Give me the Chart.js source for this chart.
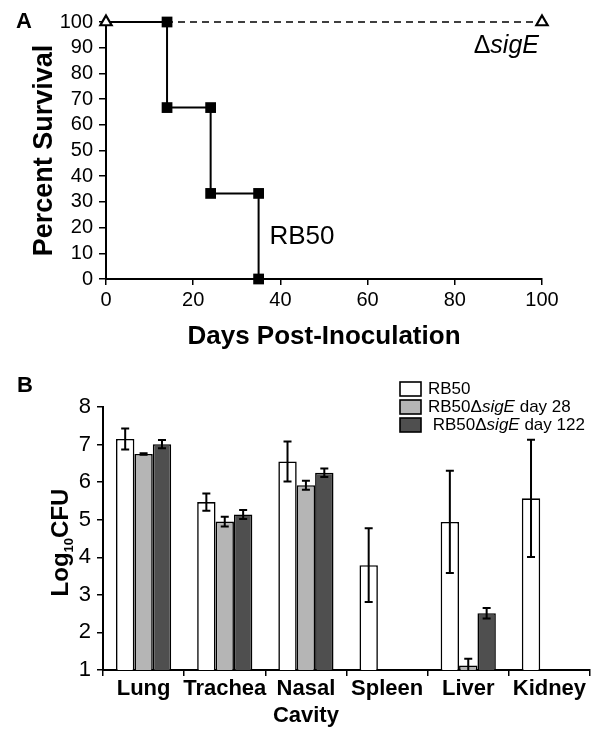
<!DOCTYPE html>
<html>
<head>
<meta charset="utf-8">
<script src="https://cdn.jsdelivr.net/npm/chart.js@4.4.1/dist/chart.umd.min.js"></script>
<style>
  html, body { margin: 0; padding: 0; background: #fff; }
  #wrap { position: relative; width: 600px; height: 737px; overflow: hidden; }
  .pane { position: absolute; left: 0; }
  #chartA { top: 0; }
  #chartB { top: 360px; }
  .tag { position: absolute; font: bold 22px "Liberation Sans", Arial, sans-serif; color: #000; }
</style>
</head>
<body>
<div id="wrap">
  <canvas id="chartA" class="pane" width="600" height="352"></canvas>
  <canvas id="chartB" class="pane" width="600" height="377"></canvas>
  <div class="tag" style="left:16px;top:8px">A</div>
  <div class="tag" style="left:17px;top:372px">B</div>
</div>
<script>
// ---- panel A: survival ----
const rbDays = [0, 14, 14, 24, 24, 35, 35];
const rbSurv = [100, 100, 66.7, 66.7, 33.3, 33.3, 0];
const sigDays = [0, 100];
const sigSurv = [100, 100];

// ---- panel B: organ burden (log10 CFU) ----
const organs = ["Lung", "Trachea", ["Nasal", "Cavity"], "Spleen", "Liver", "Kidney"];
const rb50 = [7.15, 5.47, 6.55, 3.79, 4.94, 5.57];
const rb50Err = [0.28, 0.23, 0.53, 0.98, 1.36, 1.56];
const d28 = [6.75, 4.95, 5.92, null, 1.12, null];
const d28Err = [0.02, 0.13, 0.12, null, 0.18, null];
const d122 = [7.01, 5.14, 6.25, null, 2.51, null];
const d122Err = [0.11, 0.12, 0.11, null, 0.14, null];

const FONT = '"Liberation Sans", Arial, sans-serif';
Chart.defaults.font.family = FONT;
Chart.defaults.color = "#000";

const pts = (xs, ys) => xs.map((x, i) => ({ x, y: ys[i] }));

// draws a run of text pieces, some italic
function richText(ctx, parts, x, y, size, align) {
  const fontOf = p => (p.it ? "italic " : "") + size + "px " + FONT;
  let total = 0;
  parts.forEach(p => { ctx.font = fontOf(p); total += ctx.measureText(p.t).width; });
  let cx = align === "right" ? x - total : x;
  ctx.textAlign = "left";
  parts.forEach(p => { ctx.font = fontOf(p); ctx.fillText(p.t, cx, y); cx += ctx.measureText(p.t).width; });
}

const survivalLabels = {
  id: "survivalLabels",
  afterDatasetsDraw(chart) {
    const { ctx, scales: { x, y } } = chart;
    ctx.save();
    ctx.fillStyle = "#000";
    ctx.textBaseline = "middle";
    richText(ctx, [{ t: "Δ" }, { t: "sigE", it: true }], x.getPixelForValue(100) - 3, y.getPixelForValue(90.5), 25, "right");
    richText(ctx, [{ t: "RB50" }], x.getPixelForValue(37.5), y.getPixelForValue(16.5), 26, "left");
    ctx.restore();
  }
};

new Chart(document.getElementById("chartA"), {
  type: "line",
  data: {
    datasets: [
      { label: "ΔsigE", data: pts(sigDays, sigSurv), borderColor: "#000", borderWidth: 1.3, borderDash: [7, 5],
        pointStyle: "triangle", pointRadius: 6.5, pointBorderWidth: 2.2, pointBackgroundColor: "#fff", pointBorderColor: "#000", clip: false },
      { label: "RB50", data: pts(rbDays, rbSurv), borderColor: "#000", borderWidth: 2,
        pointStyle: "rect", pointRadius: c => (c.dataIndex === 0 ? 0 : 7.6), pointBorderWidth: 0, pointBackgroundColor: "#000", clip: false }
    ]
  },
  options: {
    responsive: false, animation: false,
    layout: { padding: { left: 28, top: 22, right: 58, bottom: 0 } },
    plugins: { legend: { display: false }, tooltip: { enabled: false } },
    scales: {
      x: {
        type: "linear", min: 0, max: 100,
        ticks: { stepSize: 20, font: { size: 20 }, padding: 3, maxRotation: 0, autoSkip: false },
        grid: { drawOnChartArea: false, tickLength: 6, color: "#000", lineWidth: 1.5 },
        border: { color: "#000", width: 2 },
        title: { display: true, text: "Days Post-Inoculation", font: { size: 26, weight: "bold" }, padding: 0 },
        afterFit(s) { s.height = 73; }
      },
      y: {
        min: 0, max: 100,
        ticks: { stepSize: 10, font: { size: 20 }, padding: 6, autoSkip: false },
        grid: { drawOnChartArea: false, tickLength: 7, color: "#000", lineWidth: 1.5 },
        border: { color: "#000", width: 2 },
        title: { display: true, text: "Percent Survival", font: { size: 27, weight: "bold" }, padding: 0 },
        afterFit(s) { s.width = 106 - 28; }
      }
    }
  },
  plugins: [survivalLabels]
});

// error bars + y title with subscript + legend for panel B
const legendParts = [
  [{ t: "RB50" }],
  [{ t: "RB50Δ" }, { t: "sigE", it: true }, { t: " day 28" }],
  [{ t: " RB50Δ" }, { t: "sigE", it: true }, { t: " day 122" }]
];

const extrasB = {
  id: "extrasB",
  afterDatasetsDraw(chart) {
    const { ctx, chartArea: a, scales: { y } } = chart;
    ctx.save();
    ctx.strokeStyle = "#000";
    ctx.lineWidth = 2;
    chart.data.datasets.forEach((ds, i) => {
      chart.getDatasetMeta(i).data.forEach((bar, j) => {
        const v = ds.data[j], e = ds.errors[j];
        if (v == null || e == null) return;
        const top = y.getPixelForValue(v + e), bot = y.getPixelForValue(v - e);
        const yb = Math.min(bot, a.bottom);
        ctx.beginPath();
        ctx.moveTo(bar.x, top); ctx.lineTo(bar.x, yb);
        ctx.moveTo(bar.x - 4, top); ctx.lineTo(bar.x + 4, top);
        if (bot <= a.bottom) { ctx.moveTo(bar.x - 4, bot); ctx.lineTo(bar.x + 4, bot); }
        ctx.stroke();
      });
    });
    ctx.restore();
  },
  afterDraw(chart) {
    const { ctx, chartArea: a } = chart;
    ctx.save();
    ctx.fillStyle = "#000";
    // y title: Log10CFU
    ctx.translate(59, (a.top + a.bottom) / 2 + 4);
    ctx.rotate(-Math.PI / 2);
    ctx.textBaseline = "alphabetic";
    const big = "bold 24px " + FONT, small = "bold 13px " + FONT;
    ctx.font = big; const w1 = ctx.measureText("Log").width, w3 = ctx.measureText("CFU").width;
    ctx.font = small; const w2 = ctx.measureText("10").width;
    let cx = -(w1 + w2 + w3) / 2;
    ctx.font = big; ctx.fillText("Log", cx, 9); cx += w1;
    ctx.font = small; ctx.fillText("10", cx, 14); cx += w2;
    ctx.font = big; ctx.fillText("CFU", cx, 9);
    ctx.restore();

    // legend
    ctx.save();
    ctx.textBaseline = "middle";
    ctx.fillStyle = "#000";
    chart.data.datasets.forEach((ds, i) => {
      const bx = a.right - 190, by = a.top - 25 + i * 18;
      ctx.fillStyle = ds.backgroundColor;
      ctx.fillRect(bx, by, 21, 14);
      ctx.strokeStyle = "#000"; ctx.lineWidth = 1.6;
      ctx.strokeRect(bx, by, 21, 14);
      ctx.fillStyle = "#000";
      richText(ctx, legendParts[i], bx + 28, by + 7.5, 17, "left");
    });
    ctx.restore();
  }
};

new Chart(document.getElementById("chartB"), {
  type: "bar",
  data: {
    labels: organs,
    datasets: [
      { label: "RB50", data: rb50, errors: rb50Err, backgroundColor: "#ffffff", borderColor: "#000", borderWidth: 1.6 },
      { label: "RB50ΔsigE day 28", data: d28, errors: d28Err, backgroundColor: "#b5b5b5", borderColor: "#000", borderWidth: 1.6 },
      { label: "RB50ΔsigE day 122", data: d122, errors: d122Err, backgroundColor: "#4f4f4f", borderColor: "#000", borderWidth: 1.6 }
    ]
  },
  options: {
    responsive: false, animation: false,
    layout: { padding: { left: 0, top: 47, right: 10, bottom: 0 } },
    datasets: { bar: { categoryPercentage: 0.68, barPercentage: 1 } },
    plugins: { legend: { display: false }, tooltip: { enabled: false } },
    scales: {
      x: {
        ticks: { font: { size: 22, weight: "bold" }, padding: 0, maxRotation: 0, autoSkip: false },
        grid: { drawOnChartArea: false, tickLength: 6, color: "#000", lineWidth: 1.5, offset: true },
        border: { color: "#000", width: 2 },
        afterFit(s) { s.height = 67; }
      },
      y: {
        min: 1, max: 8,
        ticks: { stepSize: 1, font: { size: 22 }, padding: 6 },
        grid: { drawOnChartArea: false, tickLength: 6, color: "#000", lineWidth: 1.5 },
        border: { color: "#000", width: 2 },
        afterFit(s) { s.width = 103; }
      }
    }
  },
  plugins: [extrasB]
});
</script>
</body>
</html>
